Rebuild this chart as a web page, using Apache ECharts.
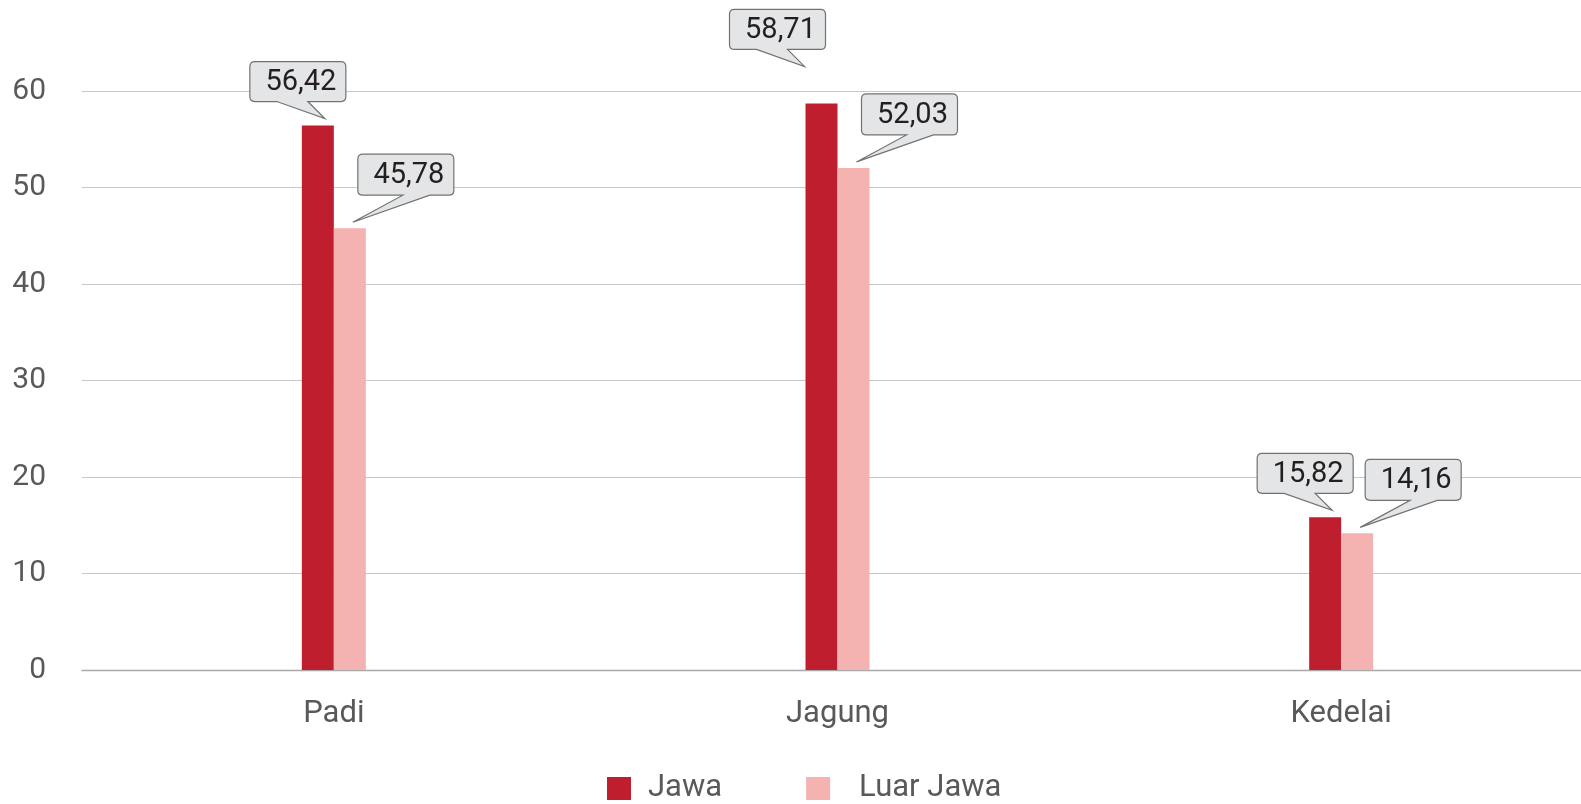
<!DOCTYPE html>
<html>
<head>
<meta charset="utf-8">
<script src="https://cdn.jsdelivr.net/npm/echarts@6/dist/echarts.min.js"></script>
<style>
  html, body { margin: 0; padding: 0; background: #ffffff; }
  #chart { width: 1581px; height: 804px; }
</style>
</head>
<body>
<div id="chart"></div>
<script>
// Produktivitas per komoditas, Jawa vs Luar Jawa
const categories = ['Padi', 'Jagung', 'Kedelai'];
const jawa = [56.42, 58.71, 15.82];
const luarJawa = [45.78, 52.03, 14.16];
const seriesNames = ['Jawa', 'Luar Jawa'];

const COLOR_JAWA = '#be1e2d';
const COLOR_LUAR = '#f4b3b0';
const FONT = 'Roboto, "DejaVu Sans", sans-serif';
const BAR_WIDTH = 32;

const fmt = v => v.toFixed(2).replace('.', ',');

// Callout geometry relative to the tip (pixels): box [left, right, top, bottom], pointer base [from, to]
const calloutJawa = { barShift: -BAR_WIDTH / 2, tip: [7, -7], box: [-75, 21, -57, -17], base: [-48, -17], nudge: { 1: [-24, -30] } };
const calloutLuar = { barShift: BAR_WIDTH / 2, tip: [3, -6], box: [5, 101, -68, -27], base: [50, 77], nudge: {} };

function calloutRenderer(side) {
  return function (params, api) {
    const i = api.value(0);
    const v = api.value(1);
    const p = api.coord([i, v]);
    const n = side.nudge[i] || [0, 0];
    const tx = p[0] + side.barShift + side.tip[0] + n[0];
    const ty = p[1] + side.tip[1] + n[1];
    const L = tx + side.box[0], R = tx + side.box[1];
    const T = ty + side.box[2], B = ty + side.box[3];
    const b1 = tx + side.base[0], b2 = tx + side.base[1];
    const r = 5;
    const d = `M${L + r},${T} H${R - r} Q${R},${T} ${R},${T + r} V${B - r} Q${R},${B} ${R - r},${B} ` +
              `H${b2} L${tx},${ty} L${b1},${B} H${L + r} Q${L},${B} ${L},${B - r} V${T + r} Q${L},${T} ${L + r},${T} Z`;
    return {
      type: 'group',
      children: [
        { type: 'path', shape: { pathData: d }, style: { fill: '#e3e5e6', stroke: '#727272', lineWidth: 1.2 } },
        { type: 'text', style: { text: fmt(v), x: (L + R) / 2 + 3, y: (T + B) / 2 + 1, align: 'center', verticalAlign: 'middle',
          fontSize: 29, fontFamily: FONT, fill: '#231f20' } }
      ]
    };
  };
}

const chart = echarts.init(document.getElementById('chart'));
chart.setOption({
  animation: false,
  backgroundColor: '#ffffff',
  grid: { left: 82, width: 1511, top: 91, bottom: 134, containLabel: false, outerBoundsMode: 'none' },
  legend: {
    data: [
      { name: seriesNames[0] },
      { name: seriesNames[1], textStyle: { padding: [0, 0, 0, 24] } }
    ],
    left: 602,
    bottom: -5,
    icon: 'rect',
    itemWidth: 24,
    itemHeight: 23,
    itemGap: 84,
    textStyle: { fontSize: 31, fontFamily: FONT, color: '#58595b', padding: [0, 0, 0, 12] }
  },
  xAxis: {
    type: 'category',
    data: categories,
    axisTick: { show: false },
    axisLine: { show: true, lineStyle: { color: '#a8a8a8', width: 1.3 } },
    axisLabel: { fontSize: 31, fontFamily: FONT, color: '#58595b', margin: 29 }
  },
  yAxis: {
    type: 'value',
    min: 0,
    max: 60,
    interval: 10,
    axisLine: { show: false },
    axisTick: { show: false },
    axisLabel: { fontSize: 30, fontFamily: FONT, color: '#58595b', margin: 36 },
    splitLine: { lineStyle: { color: '#c8c8c8', width: 1.2 } }
  },
  series: [
    { name: 'Jawa', type: 'bar', data: jawa, barWidth: BAR_WIDTH, barGap: '0%', itemStyle: { color: COLOR_JAWA } },
    { name: 'Luar Jawa', type: 'bar', data: luarJawa, barWidth: BAR_WIDTH, barGap: '0%', itemStyle: { color: COLOR_LUAR } },
    { name: 'Jawa callout', type: 'custom', clip: false, z: 5, silent: true,
      data: jawa.map((v, i) => [i, v]), renderItem: calloutRenderer(calloutJawa) },
    { name: 'Luar Jawa callout', type: 'custom', clip: false, z: 5, silent: true,
      data: luarJawa.map((v, i) => [i, v]), renderItem: calloutRenderer(calloutLuar) }
  ]
});
</script>
</body>
</html>
